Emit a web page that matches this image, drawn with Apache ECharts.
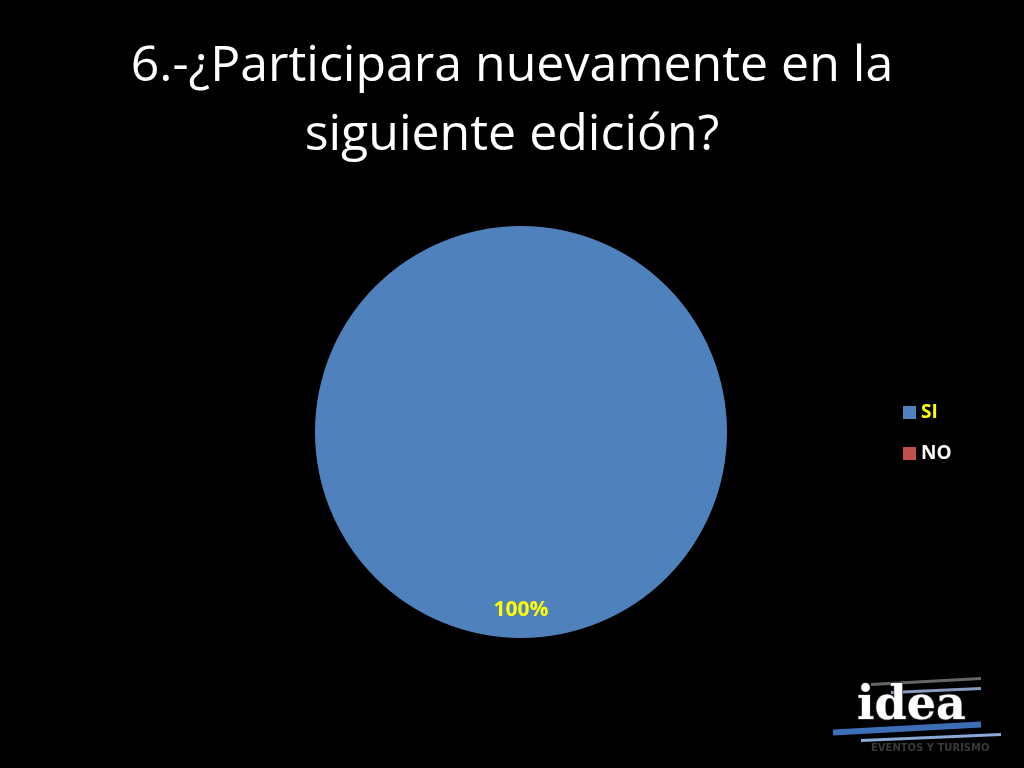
<!DOCTYPE html>
<html>
<head>
<meta charset="utf-8">
<script src="https://cdn.jsdelivr.net/npm/echarts@6/dist/echarts.min.js"></script>
<style>
html,body{margin:0;padding:0;background:#000;}
#chart{width:1024px;height:768px;}
</style>
</head>
<body>
<div id="chart"></div>
<script>
const titleText = '6.-¿Participara nuevamente en la\nsiguiente edición?';
const categories = ['SI', 'NO'];
const values = [100, 0];
const colors = ['#4F81BD', '#C0504D'];
const legendTextColors = ['#FFFF00', '#FFFFFF'];

const chart = echarts.init(document.getElementById('chart'));
chart.setOption({
  backgroundColor: '#000000',
  animation: false,
  title: {
    text: titleText,
    left: 'center',
    top: 27,
    textStyle: {
      color: '#FFFFFF',
      fontSize: 50,
      fontWeight: 'normal',
      fontFamily: '"Open Sans", sans-serif',
      lineHeight: 69
    }
  },
  legend: {
    orient: 'vertical',
    left: 903,
    top: 403,
    padding: 0,
    itemWidth: 13,
    itemHeight: 13,
    itemGap: 22,
    icon: 'rect',
    data: categories.map((c, i) => ({
      name: c,
      textStyle: { color: legendTextColors[i] }
    })),
    textStyle: {
      fontSize: 19,
      fontWeight: 'bold',
      fontFamily: '"Open Sans", sans-serif'
    }
  },
  series: [{
    type: 'pie',
    center: [521, 432],
    radius: 206,
    startAngle: 90,
    clockwise: true,
    silent: true,
    color: colors,
    itemStyle: { borderWidth: 0 },
    label: {
      show: true,
      position: 'inside',
      color: '#FFFF00',
      fontSize: 21,
      fontWeight: 'bold',
      fontFamily: '"Open Sans", sans-serif',
      formatter: p => p.value > 0 ? Math.round(p.percent) + '%' : '',
      offset: [0, 72]
    },
    labelLine: { show: false },
    data: categories.map((c, i) => ({ name: c, value: values[i] }))
  }],
  graphic: [
    { type: 'group', left: 830, top: 676, children: [
      { type: 'line', shape: { x1: 40, y1: 8, x2: 150, y2: 2 }, style: { stroke: '#666666', lineWidth: 3 } },
      { type: 'line', shape: { x1: 60, y1: 16, x2: 150, y2: 12 }, style: { stroke: '#8899BB', lineWidth: 3 } },
      { type: 'line', shape: { x1: 2, y1: 56, x2: 150, y2: 48 }, style: { stroke: '#3C6FB8', lineWidth: 6 } },
      { type: 'line', shape: { x1: 30, y1: 64, x2: 170, y2: 58 }, style: { stroke: '#8AA8D8', lineWidth: 3 } },
      { type: 'text', x: 26, y: 8, style: { text: 'idea', fill: '#FFFFFF', stroke: '#333', lineWidth: 1.5, font: 'bold 46px "DejaVu Serif", serif' } },
      { type: 'text', x: 40, y: 67, style: { text: 'EVENTOS Y TURISMO', fill: '#3A3A3A', font: 'bold 10px "DejaVu Sans", sans-serif' } }
    ]}
  ]
});
</script>
</body>
</html>
